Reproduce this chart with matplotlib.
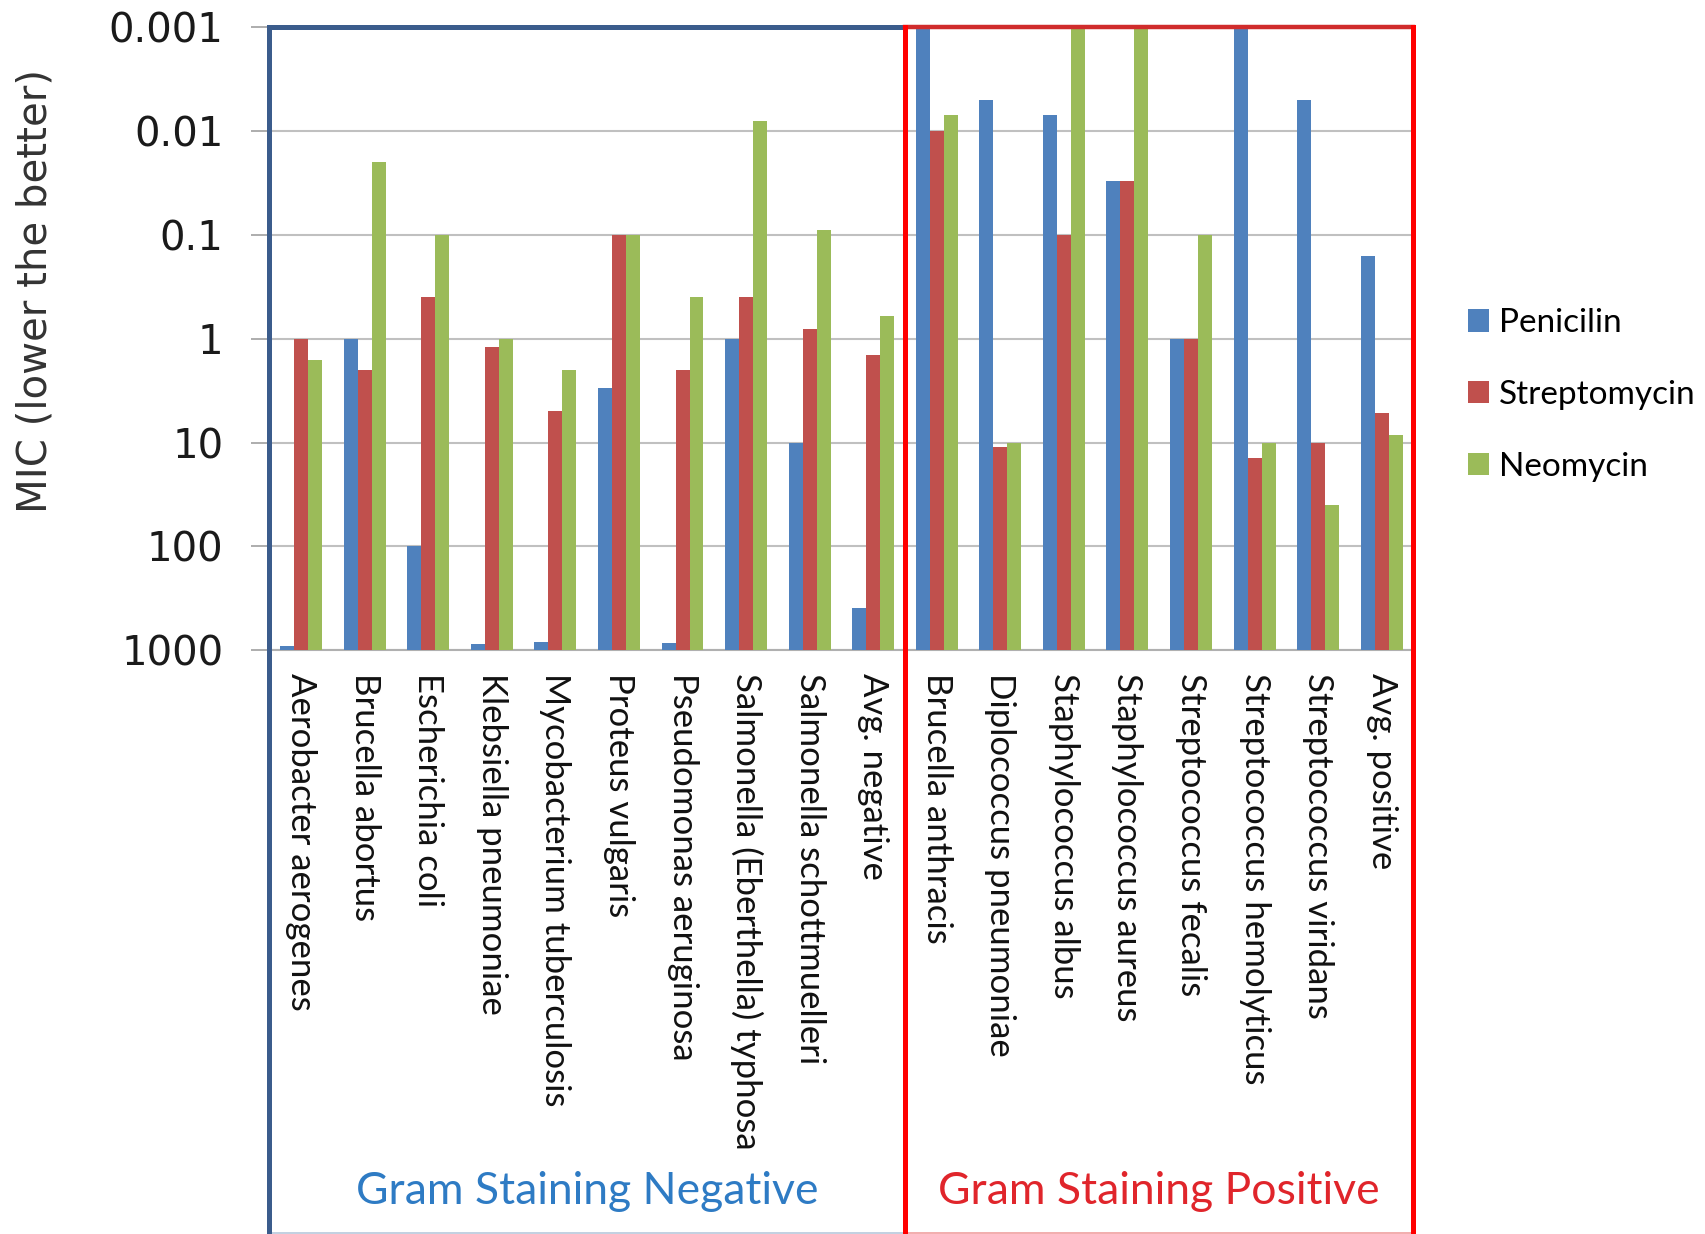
import matplotlib
matplotlib.use("Agg")
import matplotlib.pyplot as plt
import matplotlib.transforms as mtransforms
from matplotlib.patches import Patch
import numpy as np

# ── data: MIC values per organism ──
negative_organisms = [
    "Aerobacter aerogenes", "Brucella abortus", "Escherichia coli",
    "Klebsiella pneumoniae", "Mycobacterium tuberculosis", "Proteus vulgaris",
    "Pseudomonas aeruginosa", "Salmonella (Eberthella) typhosa",
    "Salmonella schottmuelleri", "Avg. negative",
]
positive_organisms = [
    "Brucella anthracis", "Diplococcus pneumoniae", "Staphylococcus albus",
    "Staphylococcus aureus", "Streptococcus fecalis", "Streptococcus hemolyticus",
    "Streptococcus viridans", "Avg. positive",
]
organisms = negative_organisms + positive_organisms

penicilin = [900, 1, 100, 870, 830, 3, 850, 1, 10, 390,
             0.001, 0.005, 0.007, 0.03, 1, 0.001, 0.005, 0.16]
streptomycin = [1, 2, 0.4, 1.2, 5, 0.1, 2, 0.4, 0.8, 1.45,
                0.01, 11, 0.1, 0.03, 1, 14, 10, 5.2]
neomycin = [1.6, 0.02, 0.1, 1, 2, 0.1, 0.4, 0.008, 0.09, 0.6,
            0.007, 10, 0.001, 0.001, 0.1, 10, 40, 8.5]

series_names = ["Penicilin", "Streptomycin", "Neomycin"]
series_colors = ["#4F81BD", "#C0504D", "#9BBB59"]
y_ticks = [0.001, 0.01, 0.1, 1, 10, 100, 1000]
y_tick_labels = ["0.001", "0.01", "0.1", "1", "10", "100", "1000"]
BASE = 1000  # bars grow up from the worst MIC

fig = plt.figure(figsize=(17.05, 12.34), dpi=100)
ax = fig.add_axes([0.158, 0.473, 0.671, 0.505])

x = np.arange(len(organisms))
width = 0.22
for k, (vals, col) in enumerate(zip([penicilin, streptomycin, neomycin], series_colors)):
    vals = np.array(vals, dtype=float)
    ax.bar(x + (k - 1) * width, vals - BASE, width, bottom=BASE, color=col, zorder=3)

ax.set_yscale("log")
ax.set_ylim(BASE, 0.001)
ax.set_xlim(-0.5, len(organisms) - 0.5)
ax.set_yticks(y_ticks)
ax.set_yticklabels(y_tick_labels, fontsize=29, color="#1a1a1a")
ax.minorticks_off()
ax.yaxis.grid(True, color="#c0c0c0", linewidth=1.5, zorder=0)
ax.tick_params(axis="y", length=13, width=1.2, color="#a0a0a0", pad=20)
ax.set_ylabel("MIC (lower the better)", fontsize=29, color="#333333")
ax.yaxis.set_label_coords(-0.187, 0.576)

ax.set_xticks(x)
ax.set_xticklabels(organisms, rotation=-90, ha="center", va="top",
                   fontsize=25, family="Lato", color="#111111")
ax.tick_params(axis="x", length=0, pad=16)

for side in ["top", "right", "left"]:
    ax.spines[side].set_visible(False)
ax.spines["bottom"].set_color("#b0b0b0")
ax.spines["bottom"].set_linewidth(1.5)

# group boxes: x in data units, y in axes units (extend down to the figure edge)
trans = mtransforms.blended_transform_factory(ax.transData, ax.transAxes)
y_bot = -0.935
split = len(negative_organisms) - 0.5
right = len(organisms) - 0.5

def seg(x0, x1, y0, y1, color, lw):
    ax.plot([x0, x1], [y0, y1], color=color, lw=lw, transform=trans,
            clip_on=False, zorder=5, solid_capstyle="projecting")

# negative group (blue)
seg(-0.5, split, y_bot, y_bot, "#b8c8dc", 1.2)
seg(split, split, 1, y_bot, "#c8d4e4", 1.0)
seg(-0.5, -0.5, 1, y_bot, "#3B5C8C", 3.6)
seg(-0.5, split, 1, 1, "#3B5C8C", 3.6)
# positive group (red)
seg(split, right, y_bot, y_bot, "#f0a0a0", 1.2)
seg(split, right, 1, 1, "#D02C2C", 3.2)
seg(split, split, 1, y_bot, "#FF0000", 3.6)
seg(right, right, 1, y_bot, "#FF0000", 3.6)

ax.text((-0.5 + split) / 2, -0.868, "Gram Staining Negative", transform=trans,
        ha="center", va="center", fontsize=32, family="Lato", color="#2E7BC4")
ax.text((split + right) / 2, -0.868, "Gram Staining Positive", transform=trans,
        ha="center", va="center", fontsize=32, family="Lato", color="#E0252B")

handles = [Patch(facecolor=c, edgecolor="none") for c in series_colors]
fig.legend(handles, series_names, loc="center left", bbox_to_anchor=(0.851, 0.68),
           frameon=False, borderpad=0, handlelength=0.65, handleheight=0.65,
           handletextpad=0.3, labelspacing=1.25, prop={"family": "Lato", "size": 24})

fig.savefig("out.png", dpi=100)
